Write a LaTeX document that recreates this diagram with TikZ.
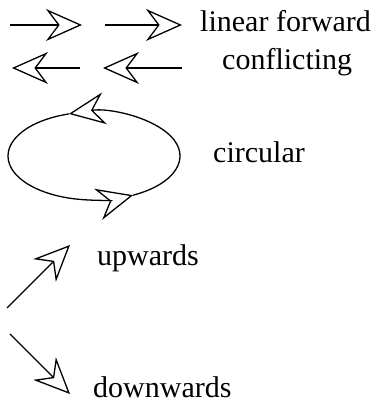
\documentclass[tikz,border=0pt]{standalone}
\usepackage{fontspec}
\setmainfont{Liberation Serif}
\usetikzlibrary{arrows.meta, calc}

\begin{document}
\begin{tikzpicture}[x=1pt, y=1pt,
  arr/.style={-{Stealth[open, length=36pt, width=32pt, inset=12pt]}, line width=1.3pt},
  lbl/.style={anchor=base west, inner sep=0pt, font=\fontsize{30}{33}\selectfont}]

  \useasboundingbox (0,0) rectangle (378,409);

  % linear forward
  \coordinate (fwdA1) at (10,384);
  \coordinate (fwdA2) at (82,384);
  \coordinate (fwdB1) at (105,384);
  \coordinate (fwdB2) at (182,384);
  \draw[arr] (fwdA1) -- (fwdA2);
  \draw[arr] (fwdB1) -- (fwdB2);
  \node[lbl] (linear) at (200,377) {linear forward};

  % conflicting
  \coordinate (conA1) at (80,341);
  \coordinate (conA2) at (12,341);
  \coordinate (conB1) at (182,341);
  \coordinate (conB2) at (103,341);
  \draw[arr] (conA1) -- (conA2);
  \draw[arr] (conB1) -- (conB2);
  \node[lbl] (conflict) at (222,339) {conflicting};

  % circular
  \coordinate (loop) at (94,253);
  \coordinate (loopLow) at ($(loop)+(-63:86 and 44)$);
  \coordinate (loopTop) at ($(loop)+(107:86 and 44)$);
  \draw[arr] (loopLow) arc[start angle=-63, end angle=107, x radius=86, y radius=44];
  \draw[arr] (loopTop) arc[start angle=107, end angle=297, x radius=86, y radius=44];
  \node[lbl] (circ) at (213,246) {circular};

  % upwards / downwards
  \coordinate (upA) at (7,101);
  \coordinate (upB) at (70,164);
  \draw[arr] (upA) -- (upB);
  \node[lbl] (up) at (97,143) {upwards};

  \coordinate (downA) at (10,75);
  \coordinate (downB) at (70,15);
  \draw[arr] (downA) -- (downB);
  \node[lbl] (down) at (93,11) {downwards};
\end{tikzpicture}
\end{document}
